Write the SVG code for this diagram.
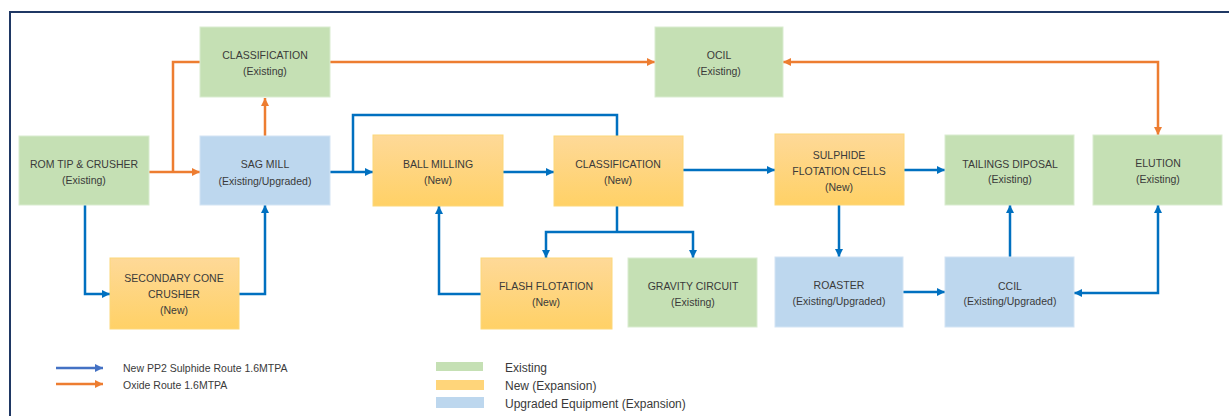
<svg xmlns="http://www.w3.org/2000/svg" width="1229" height="416" viewBox="0 0 1229 416">
<style>
text{font-family:"Liberation Sans",Arial,sans-serif;font-size:10.5px;fill:#3a3a3a;text-anchor:middle}
.lg{text-anchor:start;font-size:10.5px}
.lg2{text-anchor:start;font-size:12px}
.ex{fill:#c5e0b4;stroke:#d9ecd0;stroke-width:1}
.nw{fill:url(#og);stroke:#fcd77a;stroke-width:1}
.up{fill:#bdd7ee;stroke:#d3e4f4;stroke-width:1}
.b{fill:none;stroke:#0070c0;stroke-width:2.5}
.o{fill:none;stroke:#ed7d31;stroke-width:2.5}
</style>
<defs>
<linearGradient id="og" x1="0" y1="0" x2="0" y2="1">
<stop offset="0" stop-color="#fed998"/>
<stop offset="1" stop-color="#ffd166"/>
</linearGradient>
<marker id="ab" viewBox="0 0 10 10" refX="10" refY="5" markerWidth="9" markerHeight="8" markerUnits="userSpaceOnUse" orient="auto-start-reverse"><path d="M0,0L10,5L0,10z" fill="#0070c0"/></marker>
<marker id="ao" viewBox="0 0 10 10" refX="10" refY="5" markerWidth="9" markerHeight="8" markerUnits="userSpaceOnUse" orient="auto-start-reverse"><path d="M0,0L10,5L0,10z" fill="#ed7d31"/></marker>
<marker id="lb" viewBox="0 0 10 10" refX="10" refY="5" markerWidth="9" markerHeight="8" markerUnits="userSpaceOnUse" orient="auto"><path d="M0,0L10,5L0,10z" fill="#4472c4"/></marker>
</defs>
<rect width="1229" height="416" fill="#fff"/>
<path d="M10,416V12H1229" fill="none" stroke="#1f3864" stroke-width="2"/>

<g id="connectors">
<path class="o" d="M149,172H200" marker-end="url(#ao)"/>
<path class="o" d="M173,172V62H200"/>
<path class="o" d="M265,136V98" marker-end="url(#ao)"/>
<path class="o" d="M330,62H655" marker-end="url(#ao)"/>
<path class="o" d="M783,62H1158V135" marker-start="url(#ao)" marker-end="url(#ao)"/>
<path class="b" d="M330,172H373" marker-end="url(#ab)"/>
<path class="b" d="M353,172V115H617V136"/>
<path class="b" d="M503,172H554" marker-end="url(#ab)"/>
<path class="b" d="M683,170H775" marker-end="url(#ab)"/>
<path class="b" d="M904,170H945" marker-end="url(#ab)"/>
<path class="b" d="M617,206V232"/>
<path class="b" d="M546,258V232H693V258" marker-start="url(#ab)" marker-end="url(#ab)"/>
<path class="b" d="M481,294H439V206" marker-end="url(#ab)"/>
<path class="b" d="M85,205V294H110" marker-end="url(#ab)"/>
<path class="b" d="M239,294H265V205" marker-end="url(#ab)"/>
<path class="b" d="M839,205V257" marker-end="url(#ab)"/>
<path class="b" d="M903,292H945" marker-end="url(#ab)"/>
<path class="b" d="M1010,257V205" marker-end="url(#ab)"/>
<path class="b" d="M1074,293H1158V205" marker-start="url(#ab)" marker-end="url(#ab)"/>
</g>

<g id="classification-existing"><rect class="ex" x="200" y="27" width="130" height="70"/><text x="265" y="59">CLASSIFICATION</text><text x="265" y="75">(Existing)</text></g>
<g id="ocil"><rect class="ex" x="655" y="27" width="128" height="70"/><text x="719" y="59">OCIL</text><text x="719" y="75">(Existing)</text></g>
<g id="rom"><rect class="ex" x="19" y="136" width="130" height="69"/><text x="84" y="168">ROM TIP &amp; CRUSHER</text><text x="84" y="184">(Existing)</text></g>
<g id="sag-mill"><rect class="up" x="200" y="136" width="130" height="69"/><text x="265" y="168">SAG MILL</text><text x="265" y="185">(Existing/Upgraded)</text></g>
<g id="ball-milling"><rect class="nw" x="373" y="135" width="130" height="71"/><text x="438" y="168">BALL MILLING</text><text x="438" y="184">(New)</text></g>
<g id="classification-new"><rect class="nw" x="554" y="136" width="129" height="70"/><text x="618" y="168">CLASSIFICATION</text><text x="618" y="184">(New)</text></g>
<g id="sulphide"><rect class="nw" x="775" y="134" width="129" height="71"/><text x="839" y="159">SULPHIDE</text><text x="839" y="175">FLOTATION CELLS</text><text x="839" y="191">(New)</text></g>
<g id="tailings"><rect class="ex" x="945" y="135" width="129" height="70"/><text x="1010" y="168">TAILINGS DIPOSAL</text><text x="1010" y="183">(Existing)</text></g>
<g id="elution"><rect class="ex" x="1093" y="135" width="129" height="70"/><text x="1158" y="167">ELUTION</text><text x="1158" y="183">(Existing)</text></g>
<g id="secondary"><rect class="nw" x="110" y="258" width="129" height="71"/><text x="174" y="282">SECONDARY CONE</text><text x="174" y="298">CRUSHER</text><text x="174" y="314">(New)</text></g>
<g id="flash"><rect class="nw" x="481" y="258" width="131" height="71"/><text x="546" y="290">FLASH FLOTATION</text><text x="546" y="306">(New)</text></g>
<g id="gravity"><rect class="ex" x="628" y="258" width="129" height="69"/><text x="693" y="290">GRAVITY CIRCUIT</text><text x="693" y="306">(Existing)</text></g>
<g id="roaster"><rect class="up" x="775" y="257" width="128" height="70"/><text x="839" y="289">ROASTER</text><text x="839" y="305">(Existing/Upgraded)</text></g>
<g id="ccil"><rect class="up" x="945" y="257" width="129" height="70"/><text x="1010" y="290">CCIL</text><text x="1010" y="305">(Existing/Upgraded)</text></g>

<g id="legend">
<path d="M56,368H103" stroke="#4472c4" stroke-width="2.5" marker-end="url(#lb)"/>
<path d="M56,384H103" stroke="#ed7d31" stroke-width="2.5" marker-end="url(#ao)"/>
<text class="lg" x="123" y="372">New PP2 Sulphide Route 1.6MTPA</text>
<text class="lg" x="123" y="389">Oxide Route 1.6MTPA</text>
<rect x="436" y="362" width="47" height="9" fill="#c5e0b4"/>
<rect x="436" y="380" width="48" height="10" fill="#ffd57a"/>
<rect x="436" y="397" width="48" height="11" fill="#bdd7ee"/>
<text class="lg2" x="505" y="372">Existing</text>
<text class="lg2" x="505" y="390">New (Expansion)</text>
<text class="lg2" x="505" y="408">Upgraded Equipment (Expansion)</text>
</g>
</svg>
